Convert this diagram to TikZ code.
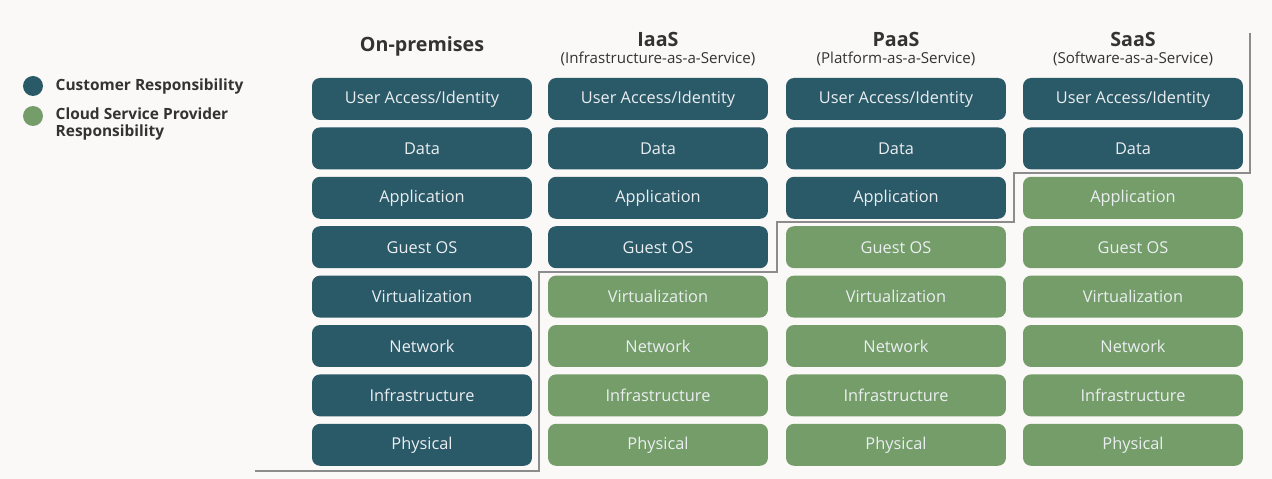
\documentclass[tikz,border=0pt]{standalone}
\usepackage{fontspec}
\setmainfont{Open Sans}
\usetikzlibrary{positioning}
\definecolor{custblue}{HTML}{2A5968}
\definecolor{provgreen}{HTML}{759D6A}
\definecolor{paper}{HTML}{FAF9F7}
\definecolor{ink}{HTML}{333333}
\tikzset{
    layer/.style =  {rectangle,
                    rounded corners=0.16cm,
                    text=white!90!custblue,
                    minimum width=4.4cm,
                    minimum height=0.84cm,
                    inner sep=0pt,
                    font=\fontsize{9.3}{11}\selectfont},
    cust/.style =   {layer,
                    fill=custblue},
    prov/.style =   {layer,
                    fill=provgreen},
    title/.style =  {text=ink,
                    inner sep=0pt,
                    font=\bfseries\fontsize{11.2}{13}\selectfont},
    sub/.style =    {text=ink,
                    inner sep=0pt,
                    font=\fontsize{8.6}{10}\selectfont},
    dot/.style =    {circle,
                    minimum size=0.4cm,
                    inner sep=0pt},
    legend/.style = {text=ink,
                    inner sep=0pt,
                    align=left,
                    font=\bfseries\fontsize{8.8}{9.8}\selectfont},
    split/.style =  {draw=black!45,
                    line width=1pt}
}

\begin{document}
\begin{tikzpicture}[x=0.02cm,y=-0.02cm]
                \useasboundingbox[fill=paper] (0,0) rectangle (1272,479);
                % legend
                \node[dot,fill=custblue]    (d1) at (33,86)     {};
                \node[dot,fill=provgreen]   (d2) at (33,116)    {};
                \node[legend,anchor=west]   (t1) [right=0.24cm of d1]   {Customer Responsibility};
                \node[legend,anchor=north west] (t2) at ([xshift=0.24cm,yshift=0.18cm]d2.east) {Cloud Service Provider\\Responsibility};
                % column heads
                \node[title]    (h0) at (422,46)    {On-premises};
                \node[title]    (h1) at (658,39)    {IaaS};
                \node[title]    (h2) at (896,39)    {PaaS};
                \node[title]    (h3) at (1133,39)   {SaaS};
                \node[sub]      (s1) [below=0.1cm of h1]    {(Infrastructure-as-a-Service)};
                \node[sub]      (s2) [below=0.1cm of h2]    {(Platform-as-a-Service)};
                \node[sub]      (s3) [below=0.1cm of h3]    {(Software-as-a-Service)};
                % stacks
                \foreach \lbl [count=\r from 0] in {User Access/Identity,Data,Application,Guest OS,Virtualization,Network,Infrastructure,Physical}
                {
                    \foreach \x/\n [count=\c from 0] in {422/8,658/4,896/3,1133/2}
                    {
                        \ifnum\r<\n \def\kind{cust}\else \def\kind{prov}\fi
                        \node[\kind]    (l\c-\r) at (\x,{99+49.4*\r})  {\lbl};
                    }
                }
                % responsibility border
                \draw[split]    (255,471) -| (539,272) -| (777,222) -| (1014,173) -| (1250,33);
        \end{tikzpicture}
\end{document}
